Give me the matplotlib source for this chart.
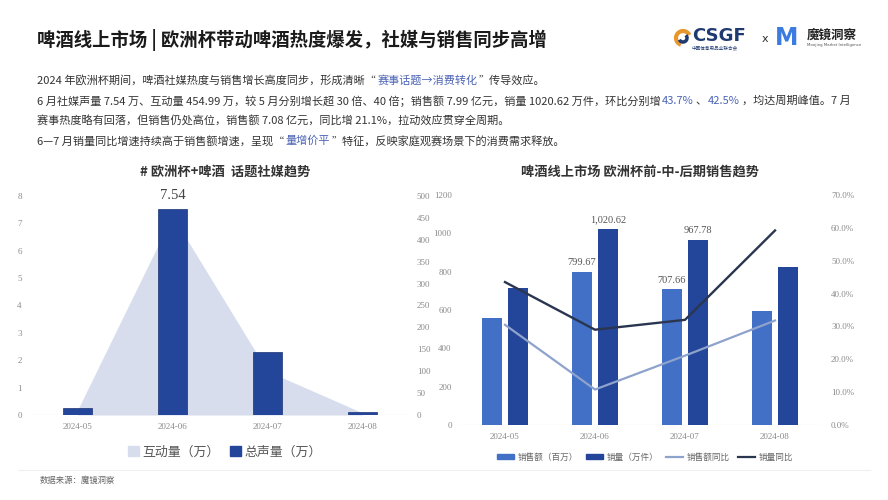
import matplotlib
matplotlib.use('Agg')
import matplotlib.pyplot as plt
from matplotlib.patches import Patch, Arc
from matplotlib.lines import Line2D
import numpy as np

plt.rcParams['font.family'] = ['Noto Sans CJK SC', 'DejaVu Sans']

# ---- data ----
months = ['2024-05', '2024-06', '2024-07', '2024-08']
voice = [0.24, 7.54, 2.30, 0.10]          # 总声量（万）
interact = [11, 454.99, 100, 5]           # 互动量（万）
sales_amt = [558, 799.67, 707.66, 595]    # 销售额（百万）
sales_vol = [715, 1020.62, 967.78, 824]   # 销量（万件）
amt_yoy = [30.5, 10.8, 21.1, 31.8]        # 销售额同比 %
vol_yoy = [43.5, 29.0, 32.0, 59.2]        # 销量同比 %
amt_labels = ['', '799.67', '707.66', '']
vol_labels = ['', '1,020.62', '967.78', '']

c_area = '#D7DDEC'
c_dark = '#24469A'
c_light = '#4270C6'
c_line_dark = '#2A3550'
c_line_light = '#8EA3CC'
c_tick = '#8A8A8A'
c_hl = '#4B63B5'
numfont = 'Liberation Serif'

W, H = 888, 500
fig = plt.figure(figsize=(W / 100, H / 100), dpi=100)
fig.patch.set_facecolor('white')

def px(x0, y0, x1, y1):
    # pixel box (top-left origin) -> figure rect
    return [x0 / W, 1 - y1 / H, (x1 - x0) / W, (y1 - y0) / H]

# ---- header ----
fig.text(37 / W, 1 - 40 / H, '啤酒线上市场 | 欧洲杯带动啤酒热度爆发，社媒与销售同步高增',
         fontsize=13.2, fontweight='bold', color='#1a1a1a', va='center')

# logos (text approximation)
fig.add_artist(Arc((683 / W, 1 - 38 / H), 14 / W, 14 / H, theta1=40, theta2=260,
                   color='#E8962E', lw=3, transform=fig.transFigure))
fig.add_artist(Arc((683 / W, 1 - 38 / H), 8 / W, 8 / H, theta1=220, theta2=420,
                   color='#1F3A70', lw=2.5, transform=fig.transFigure))
fig.text(692 / W, 1 - 36 / H, 'CSGF', fontsize=13, fontweight='bold', color='#1F3A70',
         va='center', family='DejaVu Sans')
fig.text(692 / W, 1 - 48 / H, '中国体育用品业联合会', fontsize=3.3, color='#1F3A70', va='center')
fig.text(762 / W, 1 - 39 / H, 'x', fontsize=8, color='#333333', va='center', family='DejaVu Sans')
fig.text(775 / W, 1 - 38 / H, 'M', fontsize=17, fontweight='bold', color='#3C7BE0',
         va='center', family='DejaVu Sans')
fig.text(807 / W, 1 - 35 / H, '魔镜洞察', fontsize=9, fontweight='bold', color='#222222', va='center')
fig.text(807 / W, 1 - 45 / H, 'Moojing Market Intelligence', fontsize=2.8, color='#555555',
         va='center', family='DejaVu Sans')

renderer = fig.canvas.get_renderer()

def rich_line(x, y, parts, size=8.0):
    xp = x
    for s, c in parts:
        t = fig.text(xp / W, 1 - y / H, s, color=c, fontsize=size, va='center')
        xp = t.get_window_extent(renderer).x1 + 1.5

txt = '#333333'
rich_line(37, 80, [('2024 年欧洲杯期间，啤酒社媒热度与销售增长高度同步，形成清晰“', txt),
                   ('赛事话题→消费转化', c_hl), ('”传导效应。', txt)])
rich_line(37, 101, [('6 月社媒声量 7.54 万、互动量 454.99 万，较 5 月分别增长超 30 倍、40 倍；'
                     '销售额 7.99 亿元，销量 1020.62 万件，环比分别增', txt),
                    ('43.7%', c_hl), ('、', txt), ('42.5%', c_hl), ('，均达周期峰值。7 月', txt)])
rich_line(37, 121, [('赛事热度略有回落，但销售仍处高位，销售额 7.08 亿元，同比增 21.1%，拉动效应贯穿全周期。', txt)])
rich_line(37, 141, [('6—7 月销量同比增速持续高于销售额增速，呈现“', txt), ('量增价平', c_hl),
                    ('”特征，反映家庭观赛场景下的消费需求释放。', txt)])

x = np.arange(len(months))

def style_ticks(a):
    a.tick_params(length=0, labelsize=6.5, labelcolor=c_tick)
    for lab in a.get_xticklabels() + a.get_yticklabels():
        lab.set_family(numfont)
    for s in a.spines.values():
        s.set_visible(False)

# ---- left chart ----
ax1 = fig.add_axes(px(30, 196, 410, 415))
ax1r = ax1.twinx()
ax1r.fill_between(x, interact, color=c_area, lw=0)
ax1r.set_ylim(0, 500)
ax1r.set_yticks(np.arange(0, 501, 50))
ax1.set_zorder(ax1r.get_zorder() + 1)
ax1.patch.set_visible(False)
ax1.axhline(0, color='#D0D0D0', lw=0.8, zorder=0)
b = ax1.bar(x, voice, width=0.31, color=c_dark, edgecolor='#1B3272', lw=0.5, zorder=2)
ax1.set_xlim(-0.5, 3.5)
ax1.set_ylim(0, 8)
ax1.set_yticks(range(0, 9))
ax1.set_xticks(x)
ax1.set_xticklabels(months)
ax1.text(1, voice[1] + 0.25, '7.54', ha='center', va='bottom', fontsize=10.5,
         color='#444444', family=numfont)
for a in (ax1, ax1r):
    style_ticks(a)
ax1.tick_params(axis='y', pad=6)
ax1r.tick_params(axis='y', pad=5)
ax1.tick_params(axis='x', pad=6)
fig.text(225 / W, 1 - 172 / H, '# 欧洲杯+啤酒  话题社媒趋势', fontsize=9.5, fontweight='bold',
         color='#333333', ha='center', va='center')
fig.legend(handles=[Patch(color=c_area, label='互动量（万）'), Patch(color=c_dark, label='总声量（万）')],
           loc='center', bbox_to_anchor=(225 / W, 1 - 452 / H), ncol=2, frameon=False,
           fontsize=9.3, handlelength=0.8, handleheight=0.8, handletextpad=0.3,
           columnspacing=0.8, labelcolor='#555555')

# ---- right chart ----
ax2 = fig.add_axes(px(460, 195, 820, 425))
ax2.axhline(0, color='#D0D0D0', lw=0.8, zorder=0)
bw = 0.22
off = 0.145
ax2.bar(x - off, sales_amt, width=bw, color=c_light, zorder=2)
ax2.bar(x + off, sales_vol, width=bw, color=c_dark, zorder=2)
for i in range(len(months)):
    if amt_labels[i]:
        ax2.text(x[i] - off, sales_amt[i] + 25, amt_labels[i], ha='center', va='bottom',
                 fontsize=7.5, color='#555555', family=numfont)
    if vol_labels[i]:
        ax2.text(x[i] + off, sales_vol[i] + 25, vol_labels[i], ha='center', va='bottom',
                 fontsize=7.5, color='#555555', family=numfont)
ax2.set_xlim(-0.5, 3.5)
ax2.set_ylim(0, 1200)
ax2.set_yticks(np.arange(0, 1201, 200))
ax2.set_xticks(x)
ax2.set_xticklabels(months)
ax2r = ax2.twinx()
ax2r.plot(x, amt_yoy, color=c_line_light, lw=1.6)
ax2r.plot(x, vol_yoy, color=c_line_dark, lw=1.7)
ax2r.set_ylim(0, 70)
ax2r.set_yticks(np.arange(0, 71, 10))
ax2r.set_yticklabels(['%.1f%%' % v for v in np.arange(0, 71, 10)])
for a in (ax2, ax2r):
    style_ticks(a)
ax2.tick_params(axis='y', pad=6)
ax2r.tick_params(axis='y', pad=8)
ax2.tick_params(axis='x', pad=6)
fig.text(640 / W, 1 - 172 / H, '啤酒线上市场 欧洲杯前-中-后期销售趋势', fontsize=9.5, fontweight='bold',
         color='#333333', ha='center', va='center')
fig.legend(handles=[Patch(color=c_light, label='销售额（百万）'), Patch(color=c_dark, label='销量（万件）'),
                    Line2D([], [], color=c_line_light, lw=1.6, label='销售额同比'),
                    Line2D([], [], color=c_line_dark, lw=1.6, label='销量同比')],
           loc='center', bbox_to_anchor=(645 / W, 1 - 457 / H), ncol=4, frameon=False,
           fontsize=6.2, handlelength=2.0, handleheight=0.5, handletextpad=0.4,
           columnspacing=0.9, labelcolor='#666666')

# ---- footer ----
fig.add_artist(Line2D([0.02, 0.98], [1 - 470 / H, 1 - 470 / H], color='#EFEFEF', lw=0.8,
                      transform=fig.transFigure))
fig.text(40 / W, 1 - 480 / H, '数据来源：魔镜洞察', fontsize=6, color='#666666', va='center')

fig.savefig('out.png', dpi=100, facecolor='white')
